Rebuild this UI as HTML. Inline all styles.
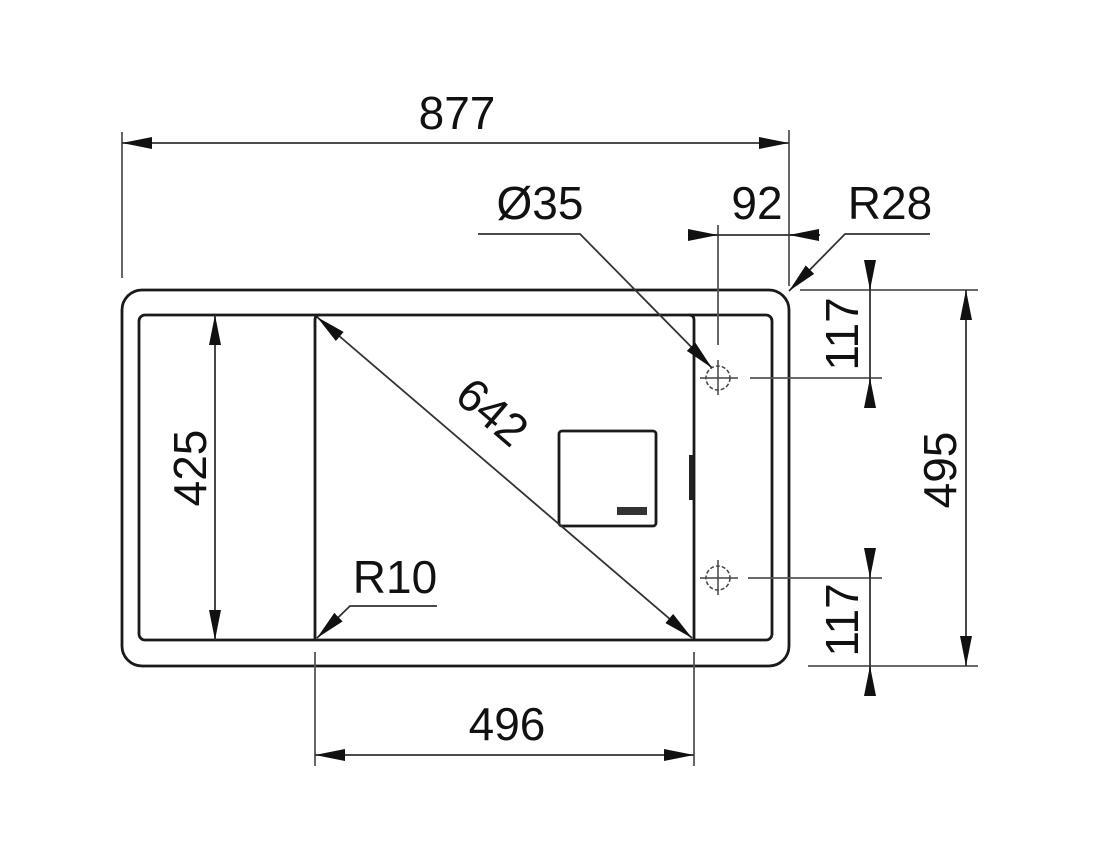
<!DOCTYPE html>
<html><head><meta charset="utf-8"><style>
html,body{margin:0;padding:0;background:#fff;}
svg{display:block;}
text{font-family:"Liberation Sans",sans-serif;font-size:46px;fill:#111;}
</style></head><body>
<svg width="1100" height="860" viewBox="0 0 1100 860" xmlns="http://www.w3.org/2000/svg">
<defs>
<marker id="a" markerUnits="userSpaceOnUse" markerWidth="32" markerHeight="12" refX="30" refY="6" orient="auto-start-reverse">
<path d="M0,0 L30,6 L0,12 Z" fill="#111"/>
</marker>
</defs>
<g fill="none" stroke="#1a1a1a" stroke-width="2.8">
<rect x="122" y="290" width="667" height="376" rx="20"/>
<rect x="139" y="315" width="633" height="325" rx="6"/>
<path d="M315,640 V320 Q315,315 320,315 M694,640 V320 Q694,315 689,315" />
<rect x="559" y="431" width="97" height="95" rx="3"/>
</g>
<rect x="689" y="455" width="4" height="45" fill="#222"/>
<rect x="617" y="507" width="30" height="8" fill="#333"/>
<g fill="none" stroke="#444" stroke-width="1.5">
<circle cx="718" cy="378" r="12" stroke-dasharray="4,2"/>
<circle cx="718" cy="578" r="12" stroke-dasharray="4,2"/>
<path d="M700,378 H738 M718,360 V395 M700,578 H738 M718,560 V595"/>
</g>
<g fill="none" stroke="#555" stroke-width="1.8">
<path d="M122,132 V278 M789,130 V286 M718,225 V345 M315,652 V766 M694,652 V766"/>
<path d="M800,290 H978 M750,378 H882 M748,578 H882 M808,666 H978"/>
</g>
<g fill="none" stroke="#333" stroke-width="1.8">
<line x1="122" y1="143" x2="789" y2="143" marker-start="url(#a)" marker-end="url(#a)"/>
<line x1="315" y1="755" x2="694" y2="755" marker-start="url(#a)" marker-end="url(#a)"/>
<line x1="215" y1="315" x2="215" y2="640" marker-start="url(#a)" marker-end="url(#a)"/>
<line x1="966" y1="290" x2="966" y2="666" marker-start="url(#a)" marker-end="url(#a)"/>
<line x1="317" y1="317" x2="692" y2="638" marker-start="url(#a)" marker-end="url(#a)"/>
<line x1="690" y1="235" x2="820" y2="235"/>
<line x1="690" y1="235" x2="718" y2="235" marker-end="url(#a)"/>
<line x1="820" y1="235" x2="789" y2="235" marker-end="url(#a)"/>
<line x1="870" y1="262" x2="870" y2="406"/>
<line x1="870" y1="260" x2="870" y2="290" marker-end="url(#a)"/>
<line x1="870" y1="408" x2="870" y2="378" marker-end="url(#a)"/>
<line x1="870" y1="548" x2="870" y2="690"/>
<line x1="870" y1="548" x2="870" y2="578" marker-end="url(#a)"/>
<line x1="870" y1="692" x2="870" y2="666" marker-end="url(#a)"/>
<polyline points="478,234 580,234 712,368" marker-end="url(#a)"/>
<polyline points="930,234 845,234 789,291" marker-end="url(#a)"/>
<polyline points="437,606 350,606 317,638" marker-end="url(#a)"/>
</g>
<text x="457" y="129" text-anchor="middle">877</text>
<text x="540" y="219" text-anchor="middle">Ø35</text>
<text x="757" y="219" text-anchor="middle">92</text>
<text x="890" y="219" text-anchor="middle">R28</text>
<text x="395" y="593" text-anchor="middle">R10</text>
<text x="507" y="740" text-anchor="middle">496</text>
<text transform="translate(206,468) rotate(-90)" text-anchor="middle">425</text>
<text transform="translate(956,470) rotate(-90)" text-anchor="middle">495</text>
<text transform="translate(858,334) rotate(-90)" text-anchor="middle">117</text>
<text transform="translate(858,620) rotate(-90)" text-anchor="middle">117</text>
<text transform="translate(482,424) rotate(40.5)" text-anchor="middle">642</text>
</svg>
</body></html>
